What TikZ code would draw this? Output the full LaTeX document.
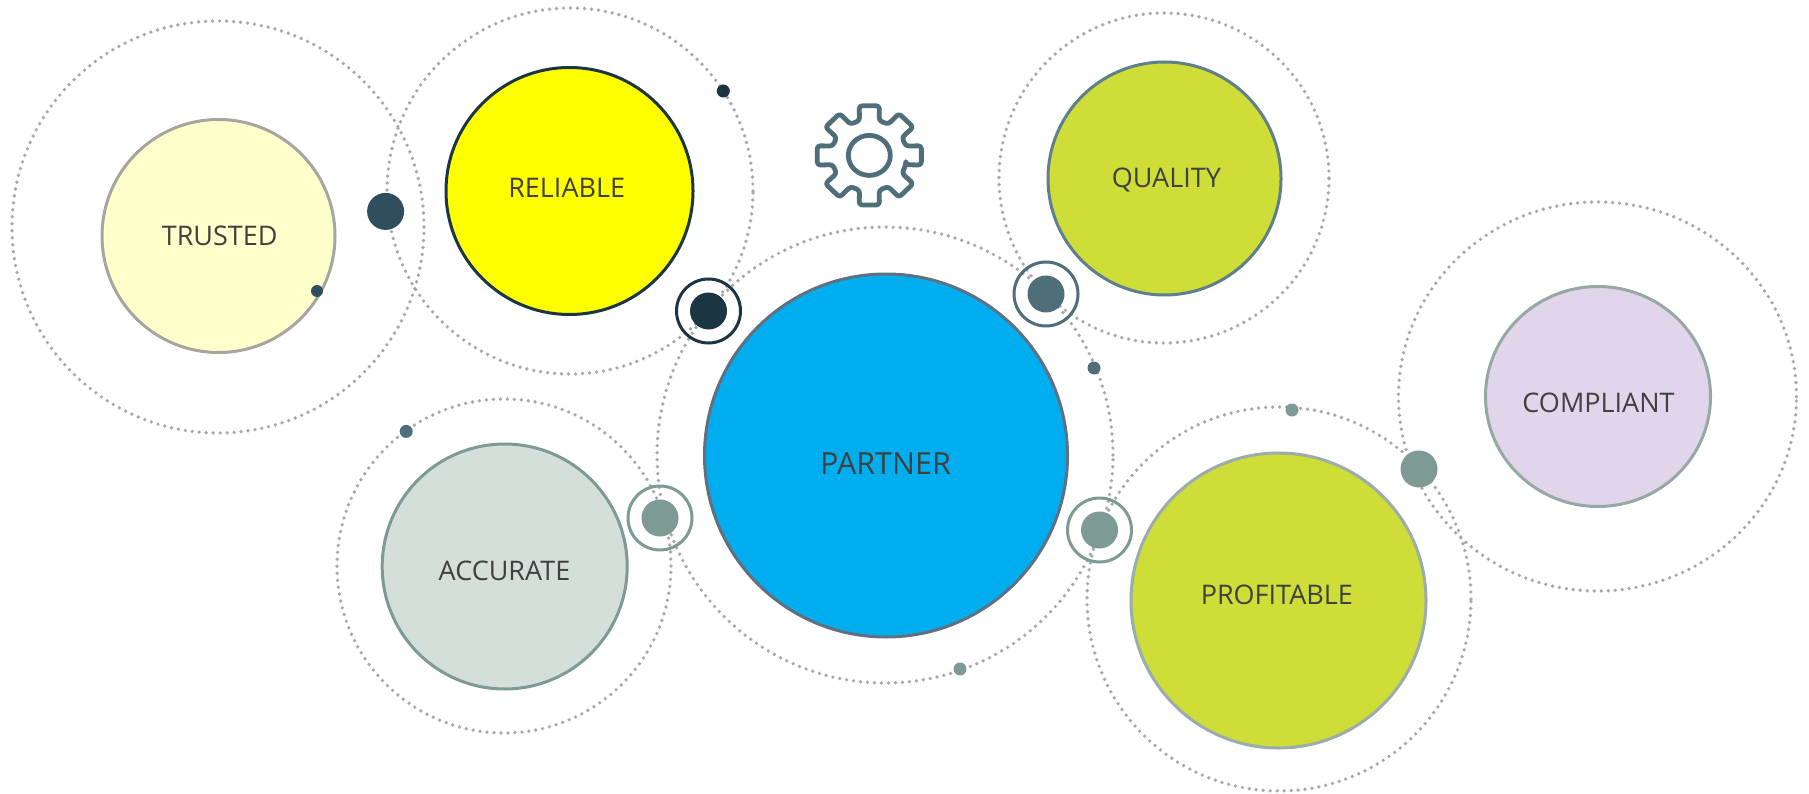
\documentclass[tikz,border=0pt]{standalone}
\usepackage{fontspec}
\setmainfont{Open Sans}
\definecolor{dotgray}{HTML}{A8A8A8}
\definecolor{txt}{HTML}{404040}
\definecolor{navy}{HTML}{1B3542}
\definecolor{slate}{HTML}{2F4F5F}
\definecolor{steel}{HTML}{4E6E7A}
\definecolor{sage}{HTML}{7D9A94}
\definecolor{trustedline}{HTML}{A6A6A0}
\definecolor{trustedfill}{HTML}{FFFFCC}
\definecolor{reliablefill}{HTML}{FFFF00}
\definecolor{qualityline}{HTML}{5F7F8C}
\definecolor{qualityfill}{HTML}{CEDD38}
\definecolor{compliantline}{HTML}{95A8A3}
\definecolor{compliantfill}{HTML}{E1D5EC}
\definecolor{partnerline}{HTML}{607080}
\definecolor{partnerfill}{HTML}{00AEEF}
\definecolor{accuratefill}{HTML}{D5DFD9}
\definecolor{profitableline}{HTML}{9AACAC}
\tikzset{
  orbit/.style={draw=dotgray,line width=3.7pt,line cap=round,dash pattern=on 0pt off 7pt},
  ball/.style 2 args={circle,draw=#1,fill=#2,line width=3pt,inner sep=0pt,outer sep=0pt},
  word/.style={text=txt,font=\fontsize{27}{30}\selectfont,inner sep=0pt},
}
\begin{document}
\begin{tikzpicture}[x=1pt,y=-1pt]
\useasboundingbox[fill=white] (0,0) rectangle (1809,794);
% orbits
\draw[orbit] (218,227) circle[radius=206pt];
\draw[orbit] (570,191) circle[radius=183pt];
\draw[orbit] (1164,178) circle[radius=165pt];
\draw[orbit] (1597.5,396.5) circle[x radius=199pt,y radius=194.5pt];
\draw[orbit] (885,455) circle[radius=228pt];
\draw[orbit] (504,566) circle[radius=167pt];
\draw[orbit] (1279,599) circle[radius=192pt];
% main balls
\node[ball={trustedline}{trustedfill},minimum size=233pt] (trusted) at (218.5,236) {};
\node[ball={navy}{reliablefill},minimum size=247pt] (reliable) at (569.5,191) {};
\node[ball={qualityline}{qualityfill},minimum size=233pt] (quality) at (1164.5,178.5) {};
\draw[ball={compliantline}{compliantfill}] (1598,396.5) circle[x radius=112.5pt,y radius=110pt];
\node[ball={partnerline}{partnerfill},minimum size=363pt] (partner) at (886,455.5) {};
\node[ball={sage}{accuratefill},minimum size=245pt] (accurate) at (504.7,566.5) {};
\node[ball={profitableline}{qualityfill},minimum size=295pt] (profitable) at (1278.5,600.5) {};
% labels
\node[word] (ltrusted) at (219.7,235.5) {TRUSTED};
\node[word] (lreliable) at (566.7,187.7) {RELIABLE};
\node[word] (lquality) at (1166.3,179.8) {QUALITY};
\node[word] (lcompliant) at (1598.5,402.5) {COMPLIANT};
\node[word,font=\fontsize{30.5}{34}\selectfont] (lpartner) at (885.5,463.5) {PARTNER};
\node[word] (laccurate) at (504.5,570.6) {ACCURATE};
\node[word] (lprofitable) at (1276.8,595) {PROFITABLE};
% small dots
\foreach \x/\y/\r/\c in {385.6/211.4/18.5/slate,317/291/6/slate,723.3/91/6.5/navy,406.2/431.4/6.5/steel,1094/368/6.5/steel,1292/410/6.5/sage,960/669/6.5/sage,1419/469/18.5/sage}
  \fill[\c] (\x,\y) circle[radius=\r pt];
% ringed dots
\foreach \x/\y/\c in {708.5/311/navy,1046/294/steel,660/518/sage,1099.5/530/sage}{
  \draw[\c,line width=3pt] (\x,\y) circle[radius=32pt];
  \fill[\c] (\x,\y) circle[radius=18.5pt];
}
% gear
\begin{scope}[shift={(869.3,155.4)},xscale=1.05,steel,line width=4.8pt]
  \draw (0,0) circle[radius=20pt];
  \draw[rounded corners=3pt,line join=round]
    (-15:36pt) foreach \a in {0,45,...,315}{
      -- ({\a-15}:36pt) -- ({\a-11}:50.5pt) -- ({\a+11}:50.5pt) -- ({\a+15}:36pt)
    } -- cycle;
\end{scope}
\end{tikzpicture}
\end{document}
